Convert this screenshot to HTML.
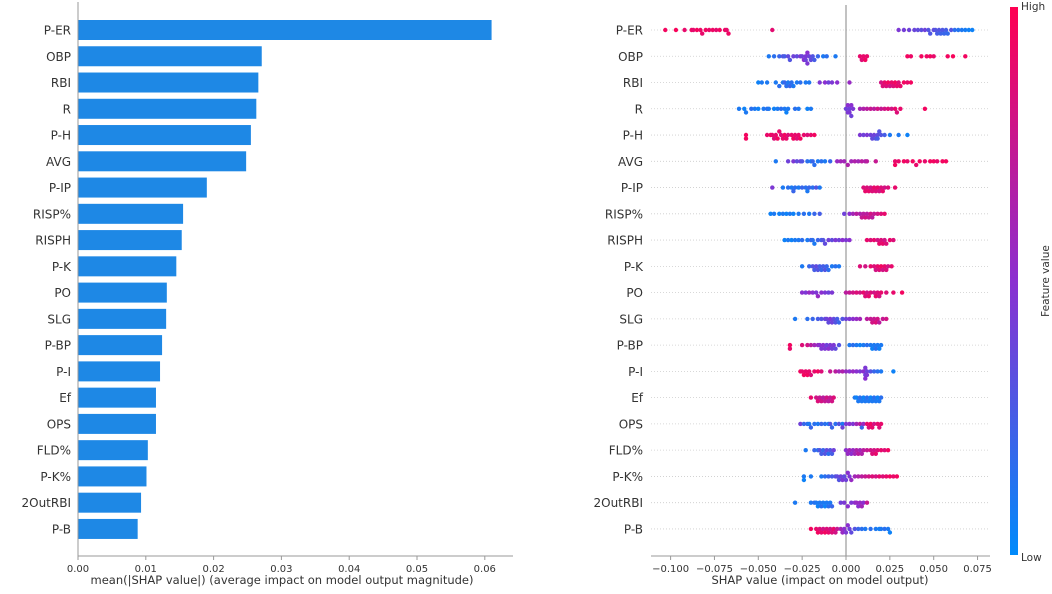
<!DOCTYPE html>
<html><head><meta charset="utf-8"><style>
html,body{margin:0;padding:0;background:#fff;}
svg{display:block;font-family:"DejaVu Sans","Liberation Sans",sans-serif;}
</style></head><body>
<svg id="chart" width="1052" height="594" viewBox="0 0 1052 594" xmlns="http://www.w3.org/2000/svg">
<defs><linearGradient id="cbg" x1="0" y1="1" x2="0" y2="0">
<stop offset="0" stop-color="#008bfb"/><stop offset="0.5" stop-color="#8b2fd0"/><stop offset="1" stop-color="#ff0052"/></linearGradient></defs>
<g id="left"></g>
<g id="right"></g>
<g>
<rect x="1010" y="7" width="8" height="548" fill="url(#cbg)"/>
<text x="1021" y="10" font-size="10.5" fill="#333">High</text>
<text x="1021" y="561" font-size="10.5" fill="#333">Low</text>
<text x="1049" y="281" font-size="10.5" fill="#333" text-anchor="middle" transform="rotate(-90 1049 281)">Feature value</text>
</g>
</svg>
<script>
const features=["P-ER","OBP","RBI","R","P-H","AVG","P-IP","RISP%","RISPH","P-K","PO","SLG","P-BP","P-I","Ef","OPS","FLD%","P-K%","2OutRBI","P-B"];
const meanAbs=[0.0610,0.0271,0.0266,0.0263,0.0255,0.0248,0.0190,0.0155,0.0153,0.0145,0.0131,0.0130,0.0124,0.0121,0.0115,0.0115,0.0103,0.0101,0.0093,0.0088];
const leftTicks=[0,0.01,0.02,0.03,0.04,0.05,0.06];
const leftTickLabels=["0.00","0.01","0.02","0.03","0.04","0.05","0.06"];
const rightTicks=[-0.1,-0.075,-0.05,-0.025,0,0.025,0.05,0.075];
const rightTickLabels=["\u22120.100","\u22120.075","\u22120.050","\u22120.025","0.000","0.025","0.050","0.075"];
const shapPER=[-103,-97,-92,-88,-87,-85,-83,-82,-80,-78,-76,-74,-72,-69,-68,-67,-42,30,33,36,39,41,43,45,47,48,50,51,52,53,54,55,56,57,58,60,62,64,66,68,70,72];
const fvPER=[.95,.97,.9,.93,.88,.96,.92,.9,.94,.91,.93,.89,.95,.92,.9,.93,.88,.45,.42,.4,.38,.35,.33,.4,.3,.28,.35,.3,.25,.3,.22,.28,.2,.25,.18,.3,.15,.12,.1,.08,.05,.05];
const shapOBP=[-44,-41,-38,-36,-35,-33,-32,-30,-28,-26,-25,-24,-23,-23,-22,-22,-21,-20,-19,-18,-16,-13,-11,-6,8,9,10,11,12,35,37,43,46,48,50,58,61,68];
const fvOBP=[.1,.15,.2,.3,.25,.35,.3,.4,.35,.45,.4,.5,.45,.4,.5,.45,.4,.35,.3,.25,.2,.1,.15,.1,.9,.85,.9,.95,.9,.95,.92,.95,.93,.95,.9,.95,.97,.95];
const shapRBI=[-50,-48,-45,-40,-38,-36,-35,-34,-33,-32,-31,-30,-28,-26,-23,-21,-15,-12,-10,-8,-5,2,20,21,22,23,24,25,26,27,28,29,30,31,33,35,37];
const fvRBI=[.05,.1,.1,.1,.15,.1,.2,.15,.1,.2,.15,.1,.1,.15,.1,.1,.45,.5,.4,.45,.5,.55,.8,.85,.9,.85,.95,.8,.9,.85,.95,.9,.85,.9,.95,.9,.95];
const shapR=[-61,-58,-57,-54,-52,-50,-47,-45,-44,-41,-39,-37,-35,-34,-33,-29,-27,-22,-20,0,1,1,2,2,3,3,4,8,10,12,14,16,18,20,22,24,26,28,29,31,45];
const fvR=[.1,.05,.1,.15,.1,.05,.1,.15,.1,.05,.1,.15,.1,.05,.1,.15,.1,.05,.1,.4,.45,.5,.4,.45,.5,.4,.45,.6,.65,.7,.75,.7,.8,.75,.8,.85,.8,.9,.85,.9,.95];
const shapPH=[-57,-57,-45,-43,-42,-41,-40,-39,-38,-37,-36,-35,-34,-33,-31,-30,-29,-28,-27,-26,-24,-22,-20,-18,8,10,12,14,15,16,17,18,18,19,20,22,25,30,35];
const fvPH=[.95,.95,.9,.95,.9,.85,.9,.95,.9,.85,.9,.95,.9,.85,.9,.95,.9,.85,.9,.95,.9,.85,.9,.95,.45,.4,.45,.4,.35,.4,.3,.35,.25,.3,.3,.25,.1,.1,.05];
const shapAVG=[-40,-33,-30,-28,-26,-25,-22,-20,-19,-18,-16,-14,-12,-9,-5,-3,-1,1,3,5,7,9,11,12,17,28,28,30,33,35,38,40,42,45,48,50,52,55,57];
const fvAVG=[.1,.4,.45,.35,.4,.3,.15,.1,.2,.15,.1,.15,.1,.2,.55,.6,.6,.65,.6,.65,.6,.7,.65,.7,.75,.9,.95,.9,.95,.9,.95,.9,.95,.9,.95,.95,.9,.95,.95];
const shapPIP=[-42,-36,-33,-31,-30,-29,-27,-25,-23,-22,-21,-19,-17,-15,10,11,12,13,14,15,16,17,18,19,20,21,22,24,28];
const fvPIP=[.45,.1,.15,.1,.2,.15,.1,.2,.15,.1,.2,.15,.3,.1,.85,.9,.85,.9,.8,.85,.9,.85,.9,.8,.85,.9,.8,.85,.9];
const shapRISPP=[-43,-41,-38,-36,-34,-32,-30,-27,-24,-21,-18,-15,-1,2,4,6,8,9,10,11,12,13,14,15,16,18,20,22];
const fvRISPP=[.05,.1,.05,.1,.05,.1,.05,.1,.15,.1,.2,.25,.4,.5,.6,.7,.65,.75,.7,.8,.7,.75,.8,.7,.75,.8,.85,.9];
const shapRISPH=[-35,-33,-31,-29,-27,-25,-22,-20,-19,-18,-16,-14,-13,-12,-10,-8,-6,-4,-2,0,2,12,14,16,18,19,20,21,22,23,25,27];
const fvRISPH=[.05,.1,.05,.1,.1,.15,.1,.2,.15,.1,.2,.25,.3,.35,.4,.35,.45,.4,.5,.45,.5,.9,.85,.9,.8,.9,.85,.9,.8,.85,.9,.85];
const shapPK=[-25,-21,-19,-18,-17,-16,-15,-14,-13,-12,-11,-10,-8,-6,-4,8,11,14,16,17,18,19,20,21,22,23,24,26];
const fvPK=[.1,.2,.3,.25,.35,.3,.25,.2,.25,.3,.2,.15,.1,.15,.1,.85,.8,.9,.85,.8,.9,.85,.95,.8,.9,.85,.8,.9];
const shapPO=[-25,-23,-21,-19,-17,-16,-14,-12,-10,-8,0,2,4,6,8,10,11,12,13,14,16,17,18,19,20,23,27,32];
const fvPO=[.5,.45,.55,.5,.45,.55,.5,.45,.4,.45,.7,.75,.8,.85,.8,.9,.85,.8,.9,.85,.8,.9,.85,.8,.9,.85,.9,.95];
const shapSLG=[-29,-22,-19,-16,-14,-12,-11,-10,-9,-8,-7,-6,-5,-4,-2,0,2,4,6,8,12,14,15,16,17,18,19,21,23];
const fvSLG=[.1,.15,.2,.25,.3,.35,.4,.35,.45,.4,.35,.3,.25,.2,.3,.4,.45,.5,.55,.6,.7,.75,.8,.75,.85,.8,.7,.75,.8];
const shapPBP=[-32,-32,-25,-22,-20,-18,-16,-15,-14,-13,-12,-11,-10,-9,-8,-7,-6,-4,2,4,6,8,10,12,14,15,16,17,18,19,20];
const fvPBP=[.95,.9,.85,.8,.7,.6,.55,.5,.45,.5,.45,.4,.5,.45,.4,.45,.35,.3,.1,.15,.1,.05,.1,.15,.1,.05,.1,.15,.1,.05,.1];
const shapPI=[-26,-25,-24,-23,-22,-21,-20,-18,-16,-14,-9,-6,-4,-2,0,2,4,6,8,10,11,11,11,12,12,14,16,18,20,27];
const fvPI=[.95,.9,.95,.9,.95,.9,.85,.9,.95,.85,.75,.7,.6,.65,.55,.5,.55,.5,.45,.5,.4,.45,.5,.4,.45,.3,.2,.15,.1,.05];
const shapEf=[-20,-17,-16,-15,-14,-13,-12,-11,-10,-9,-8,-7,5,6,7,8,9,10,11,12,13,14,15,16,17,18,19,20];
const fvEf=[.9,.8,.85,.75,.8,.7,.75,.8,.7,.75,.8,.85,.1,.05,.1,.15,.1,.05,.1,.15,.1,.05,.1,.15,.1,.05,.1,.15];
const shapOPS=[-26,-24,-22,-21,-20,-18,-16,-14,-12,-10,-9,-8,-6,-4,-2,-2,0,2,4,6,8,9,10,12,13,14,15,16,18,19,20];
const fvOPS=[.4,.2,.15,.1,.2,.15,.1,.2,.15,.1,.3,.2,.15,.3,.1,.4,.45,.5,.45,.6,.7,.2,.55,.9,.85,.95,.9,.8,.9,.85,.9];
const shapFLD=[-23,-18,-16,-15,-14,-13,-12,-11,-10,-9,-8,-7,0,1,2,3,4,5,6,7,8,9,10,12,14,15,16,17,18,20,22,24];
const fvFLD=[.1,.2,.15,.3,.25,.2,.3,.35,.15,.3,.25,.4,.5,.55,.6,.5,.55,.6,.65,.7,.6,.65,.7,.75,.8,.85,.8,.9,.85,.9,.85,.95];
const shapPKP=[-24,-24,-20,-14,-12,-10,-8,-6,-5,-4,-3,-2,-1,0,1,2,3,5,7,9,11,13,15,17,19,21,23,25,27,29];
const fvPKP=[.1,.05,.1,.1,.15,.2,.25,.3,.35,.3,.4,.45,.35,.4,.5,.45,.55,.6,.65,.7,.75,.8,.85,.8,.9,.85,.9,.95,.9,.95];
const shap2O=[-29,-20,-18,-17,-16,-15,-14,-13,-12,-11,-10,-9,-8,-3,-1,1,3,5,6,7,8,9,10,12];
const fv2O=[.1,.1,.15,.1,.05,.1,.15,.1,.05,.1,.15,.1,.2,.4,.45,.5,.45,.5,.55,.5,.55,.6,.5,.75];
const shapPB=[-20,-17,-16,-15,-14,-13,-12,-11,-10,-9,-8,-7,-6,-5,-3,-2,-1,0,1,2,3,5,7,9,11,14,17,19,20,22,24,25];
const fvPB=[.95,.9,.95,.85,.9,.8,.95,.85,.9,.8,.85,.9,.8,.75,.6,.55,.5,.45,.5,.4,.35,.3,.2,.15,.1,.15,.1,.05,.1,.15,.1,.05];
const shapRows=[shapPER,shapOBP,shapRBI,shapR,shapPH,shapAVG,shapPIP,shapRISPP,shapRISPH,shapPK,shapPO,shapSLG,shapPBP,shapPI,shapEf,shapOPS,shapFLD,shapPKP,shap2O,shapPB];
const fvRows=[fvPER,fvOBP,fvRBI,fvR,fvPH,fvAVG,fvPIP,fvRISPP,fvRISPH,fvPK,fvPO,fvSLG,fvPBP,fvPI,fvEf,fvOPS,fvFLD,fvPKP,fv2O,fvPB];

const NS="http://www.w3.org/2000/svg";
function mk(parent,tag,attrs){const e=document.createElementNS(NS,tag);for(const k in attrs)e.setAttribute(k,attrs[k]);parent.appendChild(e);return e;}
const rowY=i=>30+i*26.26;
const axisY=556;
const L=document.getElementById('left');
const lx=v=>78+v*6780;
meanAbs.forEach((v,i)=>{
  const r=mk(L,'rect',{x:lx(0),y:rowY(i)-10,width:lx(v)-lx(0),height:20,fill:'#1e88e5'});
  
  
  const t=mk(L,'text',{x:71,y:rowY(i)+4.5,'font-size':12,fill:'#333','text-anchor':'end'});
  t.textContent=features[i];
  
  
});
const ls=mk(L,'line',{x1:78,y1:2,x2:78,y2:axisY,stroke:'#999','stroke-width':1});


const lb=mk(L,'line',{x1:78,y1:axisY,x2:513,y2:axisY,stroke:'#999','stroke-width':1});


leftTicks.forEach((v,i)=>{
  mk(L,'line',{x1:lx(v),y1:axisY,x2:lx(v),y2:axisY+4,stroke:'#999'});
  const t=mk(L,'text',{x:lx(v),y:axisY+16,'font-size':10,fill:'#333','text-anchor':'middle'});
  t.textContent=leftTickLabels[i];
  
  
});
const lt=mk(L,'text',{x:282,y:584,'font-size':11.5,fill:'#333','text-anchor':'middle'});
lt.textContent='mean(|SHAP value|) (average impact on model output magnitude)';



const R=document.getElementById('right');
const rx=v=>846+v*1754;
function col(f){
  const a=[0,139,251],b=[139,47,208],c=[255,0,82];
  let p,q,t;
  if(f<0.5){p=a;q=b;t=f/0.5;}else{p=b;q=c;t=(f-0.5)/0.5;}
  return 'rgb('+p.map((x,k)=>Math.round(x+(q[k]-x)*t)).join(',')+')';
}
features.forEach((name,i)=>{
  const y=rowY(i);
  const g=mk(R,'line',{x1:651,y1:y,x2:990,y2:y,stroke:'#ccc','stroke-width':0.8,'stroke-dasharray':'1,2'});
  
  
  const t=mk(R,'text',{x:643,y:y+4.5,'font-size':12,fill:'#333','text-anchor':'end'});
  t.textContent=name;
  
  
});
const vz=mk(R,'line',{x1:rx(0),y1:5,x2:rx(0),y2:axisY,stroke:'#999','stroke-width':1.2});


shapRows.forEach((arr,i)=>{
  const y=rowY(i);const fv=fvRows[i];
  const pts=arr.map((s,k)=>({x:rx(s/1000),f:fv[k]!==undefined?fv[k]:0.5})).sort((a,b)=>a.x-b.x);
  const bins={};
  pts.forEach(p=>{
    const b=Math.round(p.x/3.6);const n=bins[b]||0;bins[b]=n+1;
    const off=n===0?0:(n%2?1:-1)*Math.ceil(n/2)*3.6;
    const c=mk(R,'circle',{cx:p.x.toFixed(1),cy:(y+off).toFixed(1),r:2.2,fill:col(p.f)});
    
    
  });
});
const rb=mk(R,'line',{x1:651,y1:axisY,x2:990,y2:axisY,stroke:'#999','stroke-width':1});


rightTicks.forEach((v,i)=>{
  mk(R,'line',{x1:rx(v),y1:axisY,x2:rx(v),y2:axisY+4,stroke:'#999'});
  const t=mk(R,'text',{x:rx(v),y:axisY+16,'font-size':10,fill:'#333','text-anchor':'middle'});
  t.textContent=rightTickLabels[i];
  
  
});
const rt=mk(R,'text',{x:820,y:584,'font-size':11.5,fill:'#333','text-anchor':'middle'});
rt.textContent='SHAP value (impact on model output)';


</script>
</body></html>
